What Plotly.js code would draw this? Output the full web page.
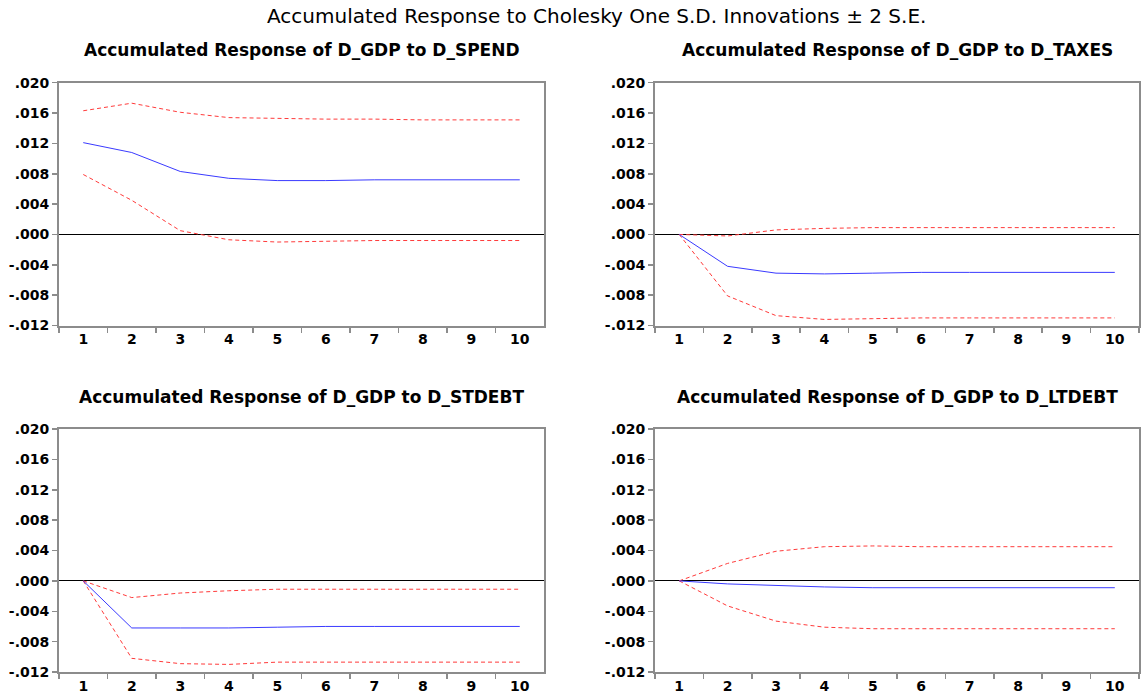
<!DOCTYPE html>
<html><head><meta charset="utf-8">
<script src="https://cdn.plot.ly/plotly-3.0.1.min.js"></script>
<style>html,body{margin:0;padding:0;background:#fff}</style>
</head><body><div id="chart" style="width:1141px;height:699px"></div>
<script>
const periods = ["1","2","3","4","5","6","7","8","9","10"];
const yTickVals = [0.020,0.016,0.012,0.008,0.004,0.000,-0.004,-0.008,-0.012];
const yTickText = [".020",".016",".012",".008",".004",".000","-.004","-.008","-.012"];

const mainTitle = "Accumulated Response to Cholesky One S.D. Innovations \u00b1 2 S.E.";
const panelTitles = [
  "Accumulated Response of D_GDP to D_SPEND",
  "Accumulated Response of D_GDP to D_TAXES",
  "Accumulated Response of D_GDP to D_STDEBT",
  "Accumulated Response of D_GDP to D_LTDEBT"
];

// D_SPEND
const spendResp  = [0.0121,0.0108,0.0083,0.0074,0.0071,0.0071,0.0072,0.0072,0.0072,0.0072];
const spendUpper = [0.0163,0.0173,0.0161,0.0154,0.0153,0.0152,0.0152,0.0151,0.0151,0.0151];
const spendLower = [0.0079,0.0045,0.0005,-0.0007,-0.0010,-0.0009,-0.0008,-0.0008,-0.0008,-0.0008];
// D_TAXES
const taxResp  = [0,-0.0042,-0.0051,-0.0052,-0.0051,-0.0050,-0.0050,-0.0050,-0.0050,-0.0050];
const taxUpper = [0,-0.0002,0.0006,0.0008,0.0009,0.0009,0.0009,0.0009,0.0009,0.0009];
const taxLower = [0,-0.0081,-0.0107,-0.0112,-0.0111,-0.0110,-0.0110,-0.0110,-0.0110,-0.0110];
// D_STDEBT
const stResp  = [0,-0.0062,-0.0062,-0.0062,-0.0061,-0.0060,-0.0060,-0.0060,-0.0060,-0.0060];
const stUpper = [0,-0.0022,-0.0016,-0.0013,-0.0011,-0.0011,-0.0011,-0.0011,-0.0011,-0.0011];
const stLower = [0,-0.0102,-0.0109,-0.0110,-0.0107,-0.0107,-0.0107,-0.0107,-0.0107,-0.0107];
// D_LTDEBT
const ltResp  = [0,-0.0004,-0.0006,-0.0008,-0.0009,-0.0009,-0.0009,-0.0009,-0.0009,-0.0009];
const ltUpper = [0,0.0023,0.0039,0.0045,0.0046,0.0045,0.0045,0.0045,0.0045,0.0045];
const ltLower = [0,-0.0033,-0.0053,-0.0061,-0.0063,-0.0063,-0.0063,-0.0063,-0.0063,-0.0063];

const panels = [
  [spendResp, spendUpper, spendLower],
  [taxResp, taxUpper, taxLower],
  [stResp, stUpper, stLower],
  [ltResp, ltUpper, ltLower]
];

const W = 1141, H = 699;
const xDom = [[59/W, 544/W],[655/W, 1139/W],[59/W, 544/W],[655/W, 1139/W]];
const yDom = [[1-325.5/H, 1-82.7/H],[1-325.5/H, 1-82.7/H],[1-672/H, 1-429/H],[1-672/H, 1-429/H]];
const titleY = [1-50/H, 1-50/H, 1-397/H, 1-397/H];

const blue = "#3a3aff", red = "#ff3a3a", axisGray = "#8c8c8c";
const tickFont = {family:"DejaVu Sans, sans-serif", size:14, color:"#000", weight:"bold"};

const traces = [];
const layout = {
  width: W, height: H,
  margin: {l:0, r:0, t:0, b:0},
  paper_bgcolor: "#fff", plot_bgcolor: "#fff",
  showlegend: false,
  annotations: [{
    text: mainTitle, xref:"paper", yref:"paper", x: 596/W, y: 1-16/H,
    xanchor:"center", yanchor:"middle", showarrow:false,
    font:{family:"DejaVu Sans, sans-serif", size:20, color:"#000"}
  }]
};

panels.forEach((p, i) => {
  const n = i === 0 ? "" : String(i+1);
  const xa = "x" + n, ya = "y" + n;
  traces.push({x: periods, y: p[1], xaxis: xa, yaxis: ya, type:"scatter", mode:"lines",
    line:{color: red, width:1, dash:"4px,3px"}, hoverinfo:"skip"});
  traces.push({x: periods, y: p[2], xaxis: xa, yaxis: ya, type:"scatter", mode:"lines",
    line:{color: red, width:1, dash:"4px,3px"}, hoverinfo:"skip"});
  traces.push({x: periods, y: p[0], xaxis: xa, yaxis: ya, type:"scatter", mode:"lines",
    line:{color: blue, width:1}, hoverinfo:"skip"});
  layout["xaxis" + n] = {
    domain: xDom[i], anchor: ya, type:"category", range:[-0.5, 9.5],
    tickson:"boundaries", ticks:"outside", ticklen:5, tickcolor: axisGray, tickwidth:1.5,
    showline:true, linecolor: axisGray, linewidth:2, mirror:true,
    showgrid:false, zeroline:false, tickfont: tickFont, fixedrange:true
  };
  layout["yaxis" + n] = {
    domain: yDom[i], anchor: xa, range:[-0.012, 0.020],
    tickvals: yTickVals, ticktext: yTickText,
    ticks:"outside", ticklen:5, tickcolor: axisGray, tickwidth:1.5,
    showline:true, linecolor: axisGray, linewidth:2, mirror:true,
    showgrid:false, zeroline:true, zerolinecolor:"#000", zerolinewidth:1,
    tickfont: tickFont, fixedrange:true
  };
  layout.annotations.push({
    text: panelTitles[i], xref:"paper", yref:"paper",
    x: (xDom[i][0]+xDom[i][1])/2, y: titleY[i], xanchor:"center", yanchor:"middle",
    showarrow:false,
    font:{family:"DejaVu Sans, sans-serif", size:17, color:"#000", weight:"bold"}
  });
});

Plotly.newPlot("chart", traces, layout, {staticPlot:true, displayModeBar:false});
</script></body></html>
